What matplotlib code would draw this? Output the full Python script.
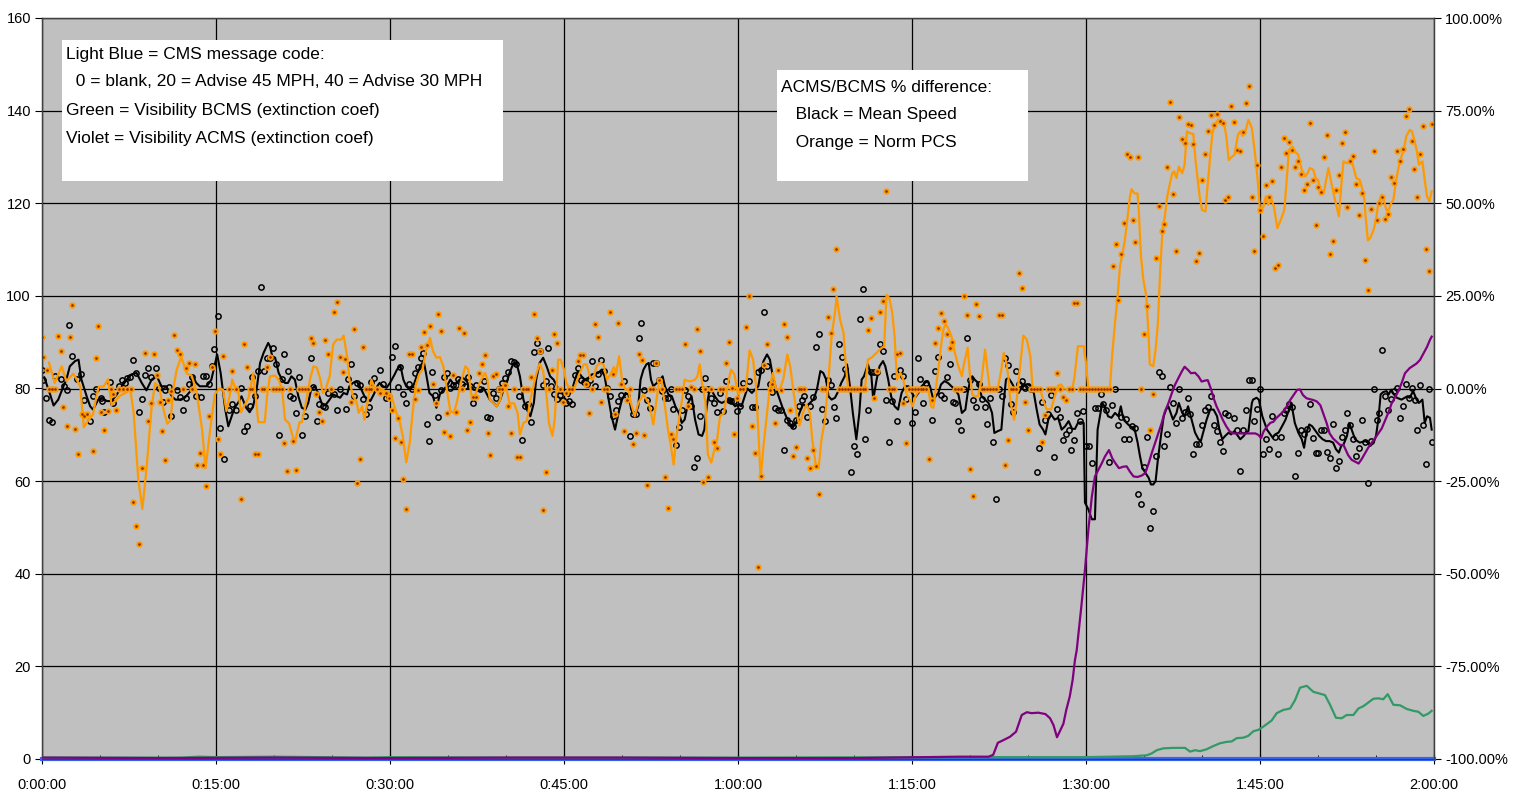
import matplotlib
matplotlib.use("Agg")
import matplotlib.pyplot as plt
from matplotlib.patches import Rectangle
from matplotlib.ticker import FuncFormatter, MultipleLocator

plt.rcParams['font.family'] = ['Liberation Sans', 'DejaVu Sans']

# ---- data (time in minutes, % difference on right axis) ----
orange_line_t = [0.6, 1.1, 1.7, 2.1, 2.7, 2.9, 3.3, 3.6, 3.9, 4.4, 4.7, 4.9, 5.3, 5.7, 6.0, 6.7, 7.3, 7.6, 7.9, 8.3,
                 8.65, 9.0, 9.45, 9.75, 10.1, 10.5, 10.8, 11.1, 11.3, 11.6, 12.0, 12.5, 12.9, 13.3, 13.8, 14.1, 14.5, 14.9, 15.3,
                 15.6, 15.9, 16.2, 16.4, 16.6, 16.9, 17.15, 17.5, 17.8, 18.0, 18.2, 18.3, 18.65, 19.2, 19.4, 19.65, 20.1, 20.4,
                 20.7, 20.95, 21.3, 21.6, 21.8, 22.2, 22.4, 22.7, 23.1, 23.4, 23.7, 24.0, 24.2, 24.4, 24.8, 25.1, 25.4, 25.8,
                 26.0, 26.3, 26.5, 26.8, 27.1, 27.3, 27.6, 27.8, 28.1, 28.4, 28.7, 29.1, 29.85, 30.1,
                 30.5, 30.8, 31.1, 31.4, 31.7, 31.95, 32.2, 32.5, 32.8, 33.1, 33.45, 33.7, 34.0, 34.3, 34.6, 34.9, 35.2, 35.5,
                 35.75, 36.1, 36.5, 36.75, 37.0, 37.2, 37.5, 37.8, 38.2, 38.4, 38.6, 39.0, 39.2, 39.5, 39.8, 40.06, 40.3, 40.7,
                 41.0, 41.2, 41.5, 41.8, 42.1, 42.4, 42.6, 42.9, 43.2, 43.5, 43.7, 44.0, 44.2, 44.5, 44.7, 45.0, 45.2,
                 45.7, 45.95, 46.3, 46.7, 46.96, 47.25, 47.5, 47.8, 48.1, 48.4, 48.7, 49.0, 49.3, 49.5, 49.75, 50.0, 50.3,
                 50.55, 50.8, 51.1, 51.4, 51.85, 52.3, 52.5, 52.7, 53.0, 53.2, 53.4, 53.7, 54.0, 54.2, 54.45, 54.7, 55.0, 55.2,
                 55.4, 55.7, 56.0, 56.3, 56.5, 56.7, 56.9, 57.2, 57.4, 57.7, 58.0, 58.2, 58.45, 58.8, 59.2, 59.4, 59.7, 60.0, 60.3,
                 60.7, 61.0, 61.3, 61.55, 61.75, 61.95, 62.2, 62.5, 62.75, 63.0, 63.3, 63.6, 63.9, 64.25, 64.5, 64.8, 65.05,
                 65.3, 65.6, 65.9, 66.2, 66.4, 66.7, 66.95, 67.2, 67.5, 67.8, 68.07, 68.36, 68.5, 68.8, 69.1, 69.3, 69.5, 70.95,
                 71.2, 71.5, 71.8, 72.1, 72.4, 72.6, 72.8, 73.05, 73.3, 73.5, 73.7, 74.0, 74.25, 74.5, 74.8, 75.05, 75.3, 75.7,
                 76.4, 76.64, 76.84, 77.04, 77.27, 77.5, 77.7, 77.9, 78.1, 78.4, 78.7, 79.0, 79.3, 79.5, 79.8, 80.0, 80.2, 80.4,
                 80.7, 81.0, 81.3, 81.5, 81.7, 82.4, 82.7, 82.9, 83.1, 83.3, 83.5, 83.8, 84.0, 84.2, 84.5, 84.6, 84.9, 85.2, 85.4,
                 86.04, 86.3, 86.6, 87.0, 87.3, 87.6, 87.85, 88.1, 88.8, 89.0, 89.3, 89.8, 90.0, 90.2,
                 92.06, 92.27, 92.5, 92.7, 92.93, 93.13, 93.36, 93.59, 93.79, 93.93, 94.16, 94.45, 94.56, 94.74, 94.94, 95.2,
                 95.4, 95.5, 95.8, 96.0, 96.2, 96.4, 96.6, 96.8, 97.0, 97.24, 97.44, 97.6, 97.8, 98.0, 98.3, 98.5, 98.7, 98.96,
                 99.25, 99.45, 99.7, 99.8, 100.0, 100.3, 100.5, 100.7, 100.9, 101.1, 101.4, 101.6, 101.9, 102.1, 102.3, 102.6,
                 102.8, 103.1, 103.3, 103.5, 103.7, 104.0, 104.3, 104.6, 104.8, 105.0,
                 105.3, 105.5, 105.7, 106.0, 106.2, 106.5, 106.8, 107.1, 107.3, 107.5, 107.8, 108.0, 108.3, 108.6, 108.9,
                 109.1, 109.3, 109.6, 109.8, 110.0, 110.2, 110.5, 110.7, 110.9, 111.1, 111.4, 111.6, 111.8, 112.0, 112.2,
                 112.5, 112.8, 113.0, 113.3, 113.6, 113.8, 114.0, 114.1, 114.3, 114.5, 114.8, 115.0, 115.2, 115.5, 115.7,
                 115.9, 116.1, 116.3, 116.5, 116.7, 116.9, 117.1, 117.4, 117.6, 117.9, 118.1, 118.3, 118.5, 118.7, 119.0,
                 119.2, 119.4, 119.6, 119.8]
orange_line_v = [7, 1.5, 6, 2, 4, 3, 0.5, -10.5, -9, -7, -2, 0.5, 0.5, 2.5, -4.5, -2, -1, 0, -6.5, -24.5,
                 -32.5, -22, -5, 1.5, 0.5, -6, -9.5, -8.5, -0.5, 5, 8.5, 4, 3.5, -0.5, -11, -21.5, -11, -1.5, 0,
                 -0.3, -6.1, -1.6, 2.4, 0.6, -0.3, -6.4, -4.3, -2.5, 0.6, 4.2, 1.5, -9.1, -9.1, -2.1, 3.3, 3.5, 2.4,
                 -0.3, -8.4, -9.4, -12.8, -14.6, -9.1, -9.1, -4.8, 2.4, 6.0, 5.6, 2.4, -1.2, -0.7, 3.3, 11.9, 13.2, 13.2,
                 14.3, 8.7, 2.4, -2.1, -3.4, -6.6, -4.8, -8.4, -3.0, 2.4, -0.3, 0.2, -1.2, -1.6,
                 -6.1, -8.4, -12.8, -19.9, -14.6, -6.6, 0.6, 3.8, 5.1, 10.1, 13.7, 10.1, 8.3, 8.5, 6.0, -0.3, -6.1, -6.6,
                 -3.9, 1.5, 6.0, 5.1, -1.6, -3.0, -0.3, 2.0, 4.2, 2.4, -3.0, -4.3, -4.8, -3.0, 1.5, -0.3, -4.0, -4.0,
                 -6.6, -12.4, -9.3, -8.8, -3.0, 1.1, 3.8, 6.7, 4.7, -2.1, -9.3, -12.8, -8.4, 7.8, 7.8, 5.1, 1.5,
                 -1.2, 0.6, 3.8, 6.5, 6.5, 2.9, 2.4, 6.0, 6.9, 6.5, 2.4, 3.8, 5.8, 4.2, 8.7, 2.4, -0.3,
                 -0.3, -4.3, -7.5, -3.9, -1.6, -3.9, -6.6, -9.7, -2.5, 2.0, 2.4, -4.8, -11.9, -15.1, -20.5, -12.8, -6.6, -2.5,
                 2.4, 2.0, 2.0, 2.4, 3.3, 6.5, 1.5, -3.9, -17.8, -20.0, -16.0, -13.7, -7.5, -6.6, 2.4, 5.1, 3.8, -1.6, -0.3,
                 0.6, 10.3, 7.8, 0.6, -11.1, -24.5, -15.5, -6.6, 0.6, 4.2, -0.3, -0.3, 2.4, 9.2, 6.0, -1.2, -6.6,
                 -10.0, -6.6, -4.3, -6.6, -13.7, -20.5, -21.4, -13.7, -8.4, 2.4, 14.1, 20.4, 24.9, 18.6, 15.0, 6.0, 0, 0,
                 7.8, 8.3, 9.2, 10.1, 11.0, 11.4, 25.3, 24.4, 20.4, 14.1, 2.4, 4.2, 2.4, -1.2, -3.0, -4.8, -2.1, 0,
                 0, -4.8, -5.2, -0.3, 5.1, 11.4, 15.9, 17.3, 16.4, 14.1, 9.6, 6.0, 3.3, 6.9, 11.0, 3.3, -1.6, -2.1,
                 -2.1, 2.4, 10.5, 5.1, 0, 0, 5.1, 9.6, 7.4, 3.3, -3.9, -8.4, -3.9, 2.4, 11.4, 14.3, 13.2, 8.7, 0,
                 0, -3.0, -5.6, -5.6, -2.1, 0.8, 1.1, 0, -0.3, 2.9, 11.4, 11.4, 6.9, 0,
                 0, 9.6, 17.7, 24.0, 33.0, 36.1, 40.2, 46.5, 51.8, 53.8, 52.7, 52.6, 47.3, 35.7, 29.4, 24.9,
                 14.1, 6.5, 6.0, 10.5, 17.7, 32.1, 42.9, 46.5, 51.8, 55.4, 58.1, 58.6, 56.8, 59.9, 58.1, 60.4, 69.4, 68.9,
                 68.7, 61.3, 54.5, 51.8, 48.2, 47.8, 55.4, 62.6, 68.9, 71.2, 72.5, 72.1, 71.6, 68.0, 61.7, 62.6,
                 63.1, 68.5, 69.4, 68.2, 68.9, 72.5, 70.3, 62.6, 56.3, 48.0,
                 49.1, 51.8, 49.6, 50.9, 49.1, 43.3, 45.6, 48.2, 56.3, 64.4, 65.3, 64.0, 63.1, 59.0, 57.2,
                 58.1, 59.5, 59.0, 56.8, 56.3, 53.6, 52.7, 56.3, 59.5, 56.3, 51.8, 49.1, 46.5, 54.5, 61.3,
                 60.8, 61.3, 60.4, 56.8, 56.3, 54.1, 50.9, 46.5, 40.0, 40.6, 42.9, 45.6, 50.0, 52.3, 50.5,
                 48.2, 48.2, 50.0, 50.9, 55.4, 59.0, 61.7, 64.4, 68.0, 69.8, 69.4, 67.1, 64.4, 60.4, 61.3,
                 56.3, 51.8, 50.5, 53.2]

orange_dot_t = [0, 0.11, 0.40, 0.63, 0.89, 1.15, 1.35, 1.61, 1.84, 2.13, 2.39, 2.62, 2.87, 3.13, 3.42, 3.65, 3.85, 4.37,
                4.63, 4.86, 5.12, 5.37, 5.66, 5.92, 6.15, 6.38, 6.64, 6.95, 7.36, 7.64, 7.87, 8.13, 8.36, 8.62, 8.88, 9.14,
                9.4, 9.63, 9.89, 10.14, 10.37, 10.63, 10.89, 11.15, 11.38, 11.64, 11.9, 12.16, 12.41, 12.64, 12.9, 13.16,
                13.39, 13.65, 13.88, 14.14, 14.4, 14.63, 14.89, 15.14, 15.35,
                15.63, 16.12, 16.4, 16.7, 17.12, 17.38, 17.64, 17.9, 18.13, 18.39, 18.59, 18.93, 19.16, 19.42, 19.65, 19.9,
                20.17, 20.4, 20.66, 20.9, 21.15, 21.4, 21.63, 21.9, 22.15, 22.38, 22.64, 22.9, 23.16, 23.39, 23.65, 23.9,
                24.13, 24.39, 24.65, 24.88, 25.14, 25.4, 25.66, 25.92, 26.15, 26.66, 26.92, 27.15, 27.38, 27.67, 27.9,
                28.16, 28.4, 28.9, 29.16, 29.65, 29.9, 30.17, 30.4,
                30.66, 30.92, 31.15, 31.4, 31.67, 31.93, 32.16, 32.4, 32.67, 32.9, 33.16, 33.42, 33.68, 33.94, 34.17, 34.43,
                34.68, 34.94, 35.17, 35.43, 35.69, 35.92, 36.18, 36.41, 36.67, 36.93, 37.18, 37.41, 37.67, 37.93, 38.19,
                38.42, 38.65, 38.9, 39.17, 39.43, 39.68, 39.91, 40.17, 40.43, 40.69, 40.92, 41.18, 41.44, 41.7, 41.93, 42.18,
                42.44, 42.7, 42.93, 43.19, 43.45, 43.68, 43.94, 44.17, 44.43, 44.68, 44.94, 45.17, 45.43,
                45.66, 46.18, 46.41, 46.67, 46.93, 47.16, 47.45, 47.68, 47.93, 48.19, 48.45, 48.68, 48.94, 49.2, 49.43,
                49.69, 49.95, 50.2, 50.44, 50.69, 50.95, 51.18, 51.44, 51.7, 51.93, 52.19, 52.45, 52.7, 52.96, 53.19, 53.45,
                53.71, 53.94, 54.2, 54.43, 54.69, 54.95, 55.2, 55.46, 55.72, 55.95, 56.21, 56.47, 56.7, 56.96, 57.19, 57.45,
                57.7, 57.96, 58.19, 58.45, 58.71, 58.94, 59.2, 59.46, 59.69, 59.95, 60.2, 60.46,
                60.69, 60.97, 61.23, 61.46, 61.72, 61.95, 62.21, 62.47, 62.73, 62.96, 63.22, 63.47, 63.73, 63.99, 64.22,
                64.48, 64.71, 64.97, 65.23, 65.46, 65.72, 65.97, 66.23, 66.46, 66.72, 66.98, 67.21, 67.47, 67.73, 67.99,
                68.22, 68.47, 68.73, 68.96, 69.22, 69.48, 69.71, 69.97, 70.23, 70.49, 70.74, 70.97, 71.23, 71.49, 71.75,
                71.98, 72.24, 72.47, 72.73, 72.99, 73.24, 73.47, 73.73, 73.99, 74.25, 74.48, 74.74, 75.0, 75.23, 75.49,
                75.75, 75.98, 76.24, 76.47, 76.73, 76.98, 77.21, 77.47, 77.73, 77.99, 78.25, 78.48, 78.74, 79.0, 79.25,
                79.51, 79.74, 80.0, 80.23, 80.49, 80.75, 81.0, 81.24, 81.5, 81.75, 82.01, 82.24, 82.5, 82.73, 82.99, 83.25,
                83.5, 83.74, 84.0, 84.25, 84.48, 84.74, 85.0, 85.23, 85.49, 85.75, 86.0, 86.24, 86.5, 86.75, 86.98, 87.24,
                87.5, 87.76, 88.02, 88.25, 88.51, 88.77, 89.0, 89.25, 89.51, 89.77, 90.0, 90.26, 90.52, 90.78,
                91.06, 91.29, 91.55, 91.81, 92.06, 92.3, 92.55, 92.78, 93.01, 93.27, 93.5, 93.76, 94.02, 94.25, 94.51,
                94.77, 95.02, 95.25, 95.51, 95.77, 96.0, 96.26, 96.52, 96.75, 97.01, 97.27, 97.53, 97.75, 98.01, 98.27,
                98.5, 98.76, 99.02, 99.25, 99.51, 99.77, 100.0, 100.25, 100.51, 100.74, 101.0, 101.26, 101.52, 101.78,
                102.01, 102.27, 102.52, 102.75, 103.01, 103.27, 103.5, 103.76, 104.02, 104.28, 104.51, 104.77, 105.03,
                105.28, 105.52, 105.78, 106.03, 106.29, 106.52, 106.78, 107.04, 107.27, 107.53, 107.79, 108.05, 108.28,
                108.53, 108.79, 109.02, 109.28, 109.54, 109.8, 110.03, 110.29, 110.55, 110.78, 111.03, 111.29, 111.55,
                111.78, 112.04, 112.3, 112.53, 112.79, 113.05, 113.3, 113.53, 113.79, 114.05, 114.28, 114.54, 114.8,
                115.06, 115.29, 115.55, 115.8, 116.03, 116.29, 116.55, 116.78, 117.04, 117.3, 117.56, 117.82, 118.07,
                118.3, 118.56, 118.79, 119.05, 119.31, 119.57, 119.8]
orange_dot_v = [13.8, 8.5, 5.1, 0, 0, 0, 14.1, 10.0, -5.1, -10.2, 13.8, 22.5, -11.0, -17.6, -6.8, -7.5, -7.0, -16.9,
                8.1, 16.8, -6.3, -11.1, -6.1, 0, -1.4, -5.8, 0, 0, 0, 0, -30.7, -37.0, -42.0, -21.4, 9.6, -8.7,
                -4.0, 9.3, 3.7, -3.7, -11.6, -19.3, -3.1, -0.8, 14.4, 10.3, 9.2, 0, 5.6, 6.9, 0, 6.5,
                -20.6, -17.5, -20.6, -26.2, -7.5, 5.8, 15.6, -13.7, -17.7,
                8.7, 0, 4.7, 0, -29.8, 12.0, 5.8, 0, 0, -17.8, -17.8, 0, 0, 5.8, 8.4, 0,
                0, 0, 0, -14.8, -22.3, 0, -14.1, -22.0, 0, 0, 0, 0, 13.5, 12.3, -1.4, -6.4,
                -8.8, 13.2, 9.3, 0, 20.7, 23.4, 8.6, 4.4, 7.9, -3.6, 16.0, -25.6, -19.1, 11.2, 0,
                0, 0, 0, -1.2, -1.2, -2.5, -5.9, -13.4,
                -7.9, -14.4, -24.4, -32.6, 9.4, 9.4, -2.7, -0.4, 11.1, 15.3, 11.7, 16.8, 1.3, -3.9, 20.2, 15.4,
                -11.7, -6.6, -12.8, 3.7, -6.4, 16.2, -0.1, 15.1, -11.1, -9.1, -2.2, -2.2, 4.1, 6.5, 9.1,
                -11.9, -17.9, 3.5, 4.0, 0, 0, 1.0, -4.6, -11.9, 0, -18.5, -18.5, 0, 0, 0, 3.1,
                20.2, 13.7, 10.1, -32.7, -22.6, 0, 5.0, 14.6, 12.3, 0, -3.6, -1.2, 0,
                0, 7.5, 9.0, 9.0, 1.1, -6.6, 0, 17.4, 14.0, -3.7, 0, 0, 20.7, 4.0, -6.9,
                17.6, 1.1, -11.5, -3.0, 0, -15.1, -12.1, 9.3, 7.6, -12.5, -26.1, 0, 0, 6.9, 2.4, 0,
                -24.0, -32.3, -12.4, -13.7, 0, 0, 0, 12.1, -4.6, 0.4, 0, 16.1, 10.0, -25.2, 0, -23.9,
                0, -14.4, -16.0, 0, 0, 7.0, 12.6, 0.2, -12.4, -2.5, 0, 0,
                16.6, 24.9, -10.0, -17.5, -48.2, -23.6, 6.3, 12.1, -0.3, 1.1, -9.3, 5.1, -0.3, 17.5, 13.9,
                -5.8, -18.1, -15.8, 0, 0, 0, -18.7, -21.4, -16.6, -20.9, -28.6, 0, 0, 19.3, 15.0,
                26.9, 37.7, 0, 0, 0, 0, 0, 0, 0, 0, 0, 0, 15.7, 19.0, -2.5,
                4.6, 20.6, 23.5, 53.4, 0, 0, 0, 9.3, 9.5, -4.0, -14.8, 0, 0, 0, 0,
                0, 0, 0, -18.9, -3.0, 12.4, 16.3, 20.3, 18.1, 14.8, 11.0, 12.6, 0, 0, 0,
                24.9, 19.9, -21.8, -29.0, 22.7, 19.5, 0, 0, 0, 0, 0, 0, 19.9, 19.9, -20.7, -14.0,
                0, 0, 0, 31.2, 27.2, -3.6, -11.3, 0, 0, 0, 0, -14.5, -7.1, 0, 0, 0,
                4.1, 0, -2.3, -3.0, 0, 0, 23.2, 23.2, 0, 0, 0, 0, 0, 0,
                0, 0, 0, 0, 0, 33.0, 39.0, 24.0, 36.3, 44.7, 63.3, 62.4, 45.4, 39.5, 62.6,
                0, 14.7, 22.2, -11.2, -1.4, 35.1, 49.2, 42.4, 44.5, 59.9, 77.4, 52.5, 37.2, 73.4, 67.4,
                66.2, 71.4, 71.2, 65.9, 34.4, 36.5, 56.2, 63.3, 69.4, 73.9, 71.2, 74.2, 72.1, 71.6,
                50.9, 51.6, 76.3, 72.0, 64.4, 64.0, 69.1, 77.0, 81.6, 51.8, 37.1, 60.3, 48.2,
                41.2, 54.9, 51.8, 55.9, 32.6, 33.4, 59.7, 67.5, 63.6, 66.6, 64.5, 59.7, 61.3,
                58.0, 53.5, 55.2, 71.7, 56.3, 44.0, 54.5, 53.1, 62.6, 68.4, 36.3, 39.8, 53.5,
                57.5, 66.2, 69.1, 49.1, 61.3, 62.8, 55.2, 46.8, 52.7, 34.6, 26.7, 48.5, 64.2,
                45.4, 50.2, 51.7, 45.8, 47.2, 57.1, 55.5, 64.0, 61.5, 64.6, 73.6, 75.5, 66.8,
                59.2, 51.8, 63.3, 70.9, 37.7, 31.7, 71.5]

black_line_t = [0.2, 0.7, 1.0, 1.4, 1.85, 2.1, 2.4, 2.85, 3.15, 3.4, 3.85, 4.15, 4.4, 4.85, 5.15, 5.6, 6.0, 6.45, 6.9,
                7.3, 7.7, 8.15, 8.6, 9.0, 9.45, 9.9, 10.3, 10.7, 11.2, 11.5, 11.9, 12.3, 12.8, 13.0, 13.3, 13.6, 14.2,
                14.6, 15.1, 15.4, 15.8, 16.06, 16.35, 16.6, 16.9, 17.2, 17.6, 17.9, 18.2, 18.5, 18.8, 19.1, 19.5, 19.65,
                19.85, 20.1, 20.4, 20.7, 20.95, 21.2, 21.5, 21.8, 22.1, 22.4, 22.7, 22.95, 23.2, 23.5, 23.8, 24.1, 24.4,
                24.7, 25.1, 25.7, 26.0, 26.3, 26.5, 26.8, 27.1, 27.4, 27.8, 28.3, 28.6, 28.9, 29.1, 29.4, 29.7, 30.0, 30.4,
                30.6, 30.9, 31.15, 31.4, 31.7, 32.0, 32.3, 32.6, 32.9, 33.1, 33.4, 33.7, 34.0, 34.3, 34.6, 34.9, 35.2, 35.5,
                35.75, 36.0, 36.3, 36.6, 36.9, 37.2, 37.75, 38.05, 38.3, 38.6, 38.9, 39.2, 39.5, 39.8, 40.06, 40.3, 40.6,
                40.9, 41.2, 41.5, 41.8, 42.1, 42.4, 42.6, 42.9, 43.2, 43.5, 43.8, 44.1, 44.4, 44.65, 45.2,
                45.4, 45.7, 45.95, 46.2, 46.5, 46.8, 47.1, 47.4, 47.96, 48.25, 48.5, 48.8, 49.1, 49.4, 49.7, 50.0, 50.3,
                50.55, 50.8, 51.1, 51.4, 51.6, 51.85, 52.1, 52.3, 52.5, 52.7, 53.0, 53.3, 53.5, 53.7, 54.0, 54.3, 54.6,
                54.9, 55.15, 55.4, 55.7, 56.0, 56.3, 56.6, 56.9, 57.1, 57.3, 57.5, 57.7, 58.0, 58.3, 58.6, 59.2, 59.5,
                59.75, 60.0, 60.3,
                60.8, 61.2, 61.46, 61.75, 62.0, 62.2, 62.5, 62.75, 63.0, 63.3, 63.6, 63.9, 64.2, 64.5, 64.7, 65.0, 65.3,
                65.6, 65.9, 66.2, 66.5, 66.8, 67.1, 67.35, 67.6, 67.8, 68.07, 68.36, 68.65, 68.9, 69.2, 69.4, 69.65, 69.9,
                70.2, 70.46, 70.66, 70.86, 71.2, 71.5, 71.66, 71.95, 72.2, 72.5, 72.7, 72.95, 73.2, 73.5, 73.8, 74.1,
                74.4, 74.7, 75.0, 75.25,
                75.55, 75.83, 76.1, 76.35, 76.55, 76.84, 77.04, 77.27, 77.5, 77.8, 78.1, 78.4, 78.7, 79.0, 79.3, 79.6,
                79.8, 80.0, 80.2, 80.4, 80.7, 81.0, 81.3, 81.6, 81.9, 82.1, 82.4, 82.7, 82.9, 83.1, 83.3, 83.6, 83.9,
                84.2, 84.5, 84.75, 85.0, 85.3, 85.5, 85.75, 86.0, 86.3, 86.5, 86.75, 87.0, 87.3, 87.6, 87.9, 88.2, 88.5,
                88.8, 89.05, 89.3, 89.6, 89.8,
                89.91, 90.2, 90.5, 90.77, 91.0, 91.2, 91.4, 91.6, 91.9, 92.2, 92.5, 92.8, 93.0, 93.2, 93.5, 93.8, 94.1,
                94.2, 94.45, 94.65, 94.85, 95.1, 95.4, 95.6, 95.8, 96.0, 96.2, 96.5, 96.7, 96.9, 97.1, 97.3, 97.5, 97.8,
                98.0, 98.3, 98.5, 98.8, 99.1, 99.4, 99.7, 99.9, 100.1, 100.4, 100.7, 101.0, 101.3, 101.5, 101.75, 102.0,
                102.3, 102.5, 102.8, 103.1, 103.3, 103.6, 103.8, 104.0, 104.3, 104.4, 104.7, 104.9,
                105.2, 105.4, 105.6, 105.9, 106.1, 106.3, 106.6, 106.9, 107.2, 107.4, 107.7, 108.0, 108.3, 108.6, 108.8,
                109.0, 109.25, 109.5, 109.8, 110.1, 110.4, 110.7, 111.0, 111.3, 111.55, 111.8, 112.0, 112.2, 112.5,
                112.7, 112.9, 113.2, 113.4, 113.6, 114.1, 114.3, 114.5, 114.8, 115.0, 115.2, 115.4, 115.6, 115.9, 116.1,
                116.3, 116.55, 116.8, 117.2, 117.7, 117.9, 118.2, 118.5, 118.7, 119.0, 119.2, 119.4, 119.65, 119.8]
black_line_v = [3, -1.6, -4.6, -3, 0.6, 2.4, 6, 7.4, 7.8, 2.4, -2.1, -4.8, -5.7, -3, -2.5, -3.4, -3.4, -1.6, 0.6,
                2.4, 3.8, 4.2, 1.5, -0.5, 2.4, 3.3, 0.6, 0.6, -2.1, -3, -3, -2.5, -0.7, 3.3, 1.5, 0.6, 0.6,
                2.4, 9.2, 4.2, -5.7, -10.2, -7.5, -5.2, -3.9, -2.1, -5.2, -6.4, -4.8, -0.3, 6.9, 9.6, 12.3, 11.4,
                8.7, 8.3, 4.2, 2.4, 1.5, 1.5, 3.3, 2.4, -2.1, -5.2, -5.7, -3.9, -0.3, 0.6, -1.2, -3.9, -4.6,
                -3.4, -1.6, -2.5, -1.2, -1.6, 0.6, 1.5, 2.0, 0.6, -2.1, -3.4, -1.6, 0.6, 1.5, 0.6, 0.2, 1.5, 3.8,
                5.1, 6.2, 2.4, 0.6, -0.3, 0.6, 3.3, 6.0, 7.4, 4.2, -1.2, -2.1, -5.2, -1.6, -0.3, 0.6, 2.4, 1.1,
                1.5, 2.4, 2.9, 2.0, 0.6, -0.3, -0.7, 0.2, -1.2, -3.0, -3.9, -4.8, -3.0, -0.3, 1.5, 4.2, 6.5,
                6.9, 3.3, -3.0, -5.7, -7.5, -3.9, 2.4, 6.9, 8.3, 6.0, 3.3, 2.4, 0.6, -1.2, -1.6,
                -2.1, -0.3, 2.4, 4.7, 3.3, 2.4, 2.9, 3.8, 4.2, 5.1, 3.3, -2.1, -7.5, -11.1, -6.6, -3.0, -1.2,
                -1.6, -5.7, -7.5, -4.8, 2.4, 5.1, 6.5, 6.9, 2.4, 0.6, 1.5, 2.4, 3.3, 0.6, -1.6, -2.1, -4.8,
                -6.6, -9.3, -8.4, -3.9, -2.1, -8.4, -12.4, -12.8, -11.1, -4.8, -1.2, -0.3, -2.1, -3.4, -3.9, -3.0, -3.9,
                -4.8, -4.3, -4.8,
                0, -1.2, -0.3, 0.6, 5.1, 7.4, 9.2, 7.8, 3.3, -0.3, -3.0, -5.7, -7.9, -9.7, -10.6, -9.3, -6.6,
                -4.3, -4.8, -3.9, -3.0, -0.3, 4.7, 4.2, 2.4, -2.1, -3.0, -2.5, -0.7, 1.5, 3.3, 6.5, 0.6, -6.6,
                -13.7, -6.6, 2.4, 3.3, 6.5, 3.3, -3.0, 2.4, 6.0, 7.4, 6.0, 2.4, -2.1, -4.8, -5.7, -1.2,
                0.6, 0.6, -1.2, -2.5,
                -1.2, 0.6, 1.5, 2.0, 0.6, -3.0, -2.1, -1.2, 1.1, 2.0, 1.5, 0.6, -0.3, -1.6, -6.6, -5.7,
                -1.2, 2.0, 3.3, 2.4, 1.5, -2.1, -3.0, -3.9, -6.6, -12.0, -11.5, -11.1, -3.9, 2.4, 2.9, 1.5, -0.3,
                -1.2, 0.6, 1.1, 1.1, 0.6, -1.2, -5.7, -9.7, -11.1, -12.4, -8.4, -7.0, -8.4, -7.9, -11.1, -10.2, -8.8,
                -10.9, -10.9, -9.3, -9.1, -9.3,
                -30.8, -32.6, -35.3, -35.3, -11.1, -7.5, -3.9, -4.8, -7.5, -7.9, -6.6, -7.5, -4.8, -7.9, -9.3, -10.2, -10.6,
                -11.1, -14.6, -18.2, -21.3, -22.7, -24.1, -25.9, -25.9, -25.0, -19.1, -11.9, -7.5, -5.7, -4.8, -6.6, -8.4, -6.6,
                -3.9, -6.6, -7.5, -4.8, -8.4, -11.9, -13.7, -14.2, -11.9, -8.4, -5.7, -5.7, -7.5, -11.1, -13.7, -12.8,
                -11.9, -12.4, -11.5, -12.8, -13.7, -12.8, -11.9, -11.5, -3.9, -3.0, -2.5, -3.0,
                -7.5, -9.3, -11.1, -12.4, -13.3, -12.4, -11.9, -10.2, -8.4, -6.6, -3.9, -9.3, -11.9, -13.7, -16.0,
                -11.9, -9.7, -10.2, -11.5, -12.8, -13.7, -14.2, -14.2, -14.6, -16.4, -17.3, -15.5, -15.1, -12.8,
                -9.3, -11.1, -13.7, -14.2, -14.6, -14.2, -14.6, -15.5, -14.6, -12.8, -8.4, -1.6, -1.0, -0.7, -1.6,
                -0.3, -1.6, -2.5, -3.0, -2.1, -2.5, -0.7, -3.0, -3.9, -3.0, -9.3, -7.5, -7.9, -11.1]

black_dot_t = [0, 0.11, 0.35, 0.63, 0.89, 1.12, 1.61, 1.90, 2.13, 2.36, 2.62, 3.05, 3.33, 3.62, 4.14, 4.37, 4.63, 5.06,
               5.2, 5.37, 5.86, 6.15, 6.64, 6.87, 7.16, 7.36, 7.59, 7.87, 8.1, 8.36, 8.62, 8.88, 9.11, 9.4, 9.83, 10.09,
               10.4, 10.6, 10.92, 11.15, 11.61, 11.9, 12.13, 12.41, 12.64, 12.93, 13.25, 13.68, 13.91, 14.14, 14.4,
               14.63, 14.86, 15.14, 15.35,
               15.66, 16.12, 16.4, 16.7, 17.15, 17.4, 17.67, 17.9, 18.13, 18.36, 18.65, 18.9, 19.16, 19.42, 19.68, 19.88,
               20.14, 20.4, 20.66, 20.9, 21.2, 21.4, 21.66, 21.9, 22.15, 22.4, 22.67, 23.19, 23.4, 23.7, 23.9, 24.2, 24.4,
               24.68, 25.17, 25.4, 25.66, 26.17, 26.4, 26.66, 26.9, 27.15, 27.4, 27.67, 27.9, 28.16, 28.4, 28.65, 29.16,
               29.4, 29.65, 29.9, 30.17, 30.4,
               30.66, 30.9, 31.15, 31.4, 31.64, 31.9, 32.13, 32.4, 32.64, 32.87, 33.16, 33.4, 33.65, 33.88, 34.17, 34.4,
               34.66, 34.94, 35.2, 35.4, 35.66, 35.9, 36.18, 36.47, 36.7, 36.93, 37.16, 37.4, 37.73, 38.13, 38.39, 38.65,
               38.9, 39.17, 39.43, 39.66, 39.9, 40.17, 40.43, 40.66, 40.9, 41.15, 41.4, 41.67, 41.9, 42.16, 42.4, 42.67,
               42.93, 43.16, 43.42, 43.65, 43.9, 44.17, 44.43, 44.66, 44.9, 45.17, 45.4,
               45.72, 45.95, 46.21, 46.47, 46.73, 46.99, 47.22, 47.45, 47.7, 47.93, 48.19, 48.45, 48.71, 48.94, 49.2,
               49.46, 49.69, 49.95, 50.2, 50.44, 50.69, 50.95, 51.18, 51.44, 51.67, 51.93, 52.19, 52.45, 52.7, 52.96,
               53.19, 53.45, 53.71, 53.94, 54.2, 54.43, 54.69, 54.95, 55.18, 55.44, 55.69, 55.92, 56.18, 56.44, 56.7,
               56.93, 57.19, 57.42, 57.68, 57.93, 58.19, 58.45, 58.68, 58.94, 59.2, 59.43, 59.69, 59.95, 60.2, 60.46,
               60.97, 61.23, 61.46, 61.72, 61.98, 62.21, 62.47, 62.73, 62.96, 63.22, 63.47, 63.73, 63.99, 64.22, 64.48,
               64.74, 65.0, 65.23, 65.49, 65.72, 65.97, 66.23, 66.46, 66.72, 66.98, 67.24, 67.5, 67.73, 67.99, 68.24,
               68.47, 68.73, 68.96, 69.22, 69.74, 69.97, 70.23, 70.49, 70.74, 70.97, 71.23, 71.49, 71.75, 71.98, 72.24,
               72.47, 72.73, 72.99, 73.24, 73.47, 73.73, 73.99, 74.25, 74.48, 75.0, 75.23, 75.49, 75.69,
               75.98, 76.24, 76.73, 76.98, 77.21, 77.47, 77.73, 77.99, 78.25, 78.51, 78.74, 78.97, 79.23, 79.48, 79.74,
               80.0, 80.23, 80.49, 80.75, 81.0, 81.27, 81.5, 81.75, 82.01, 82.24, 82.5, 82.73, 82.99, 83.25, 83.5, 83.74,
               84.0, 84.25, 84.48, 84.74, 84.97, 85.23, 85.75, 85.98, 86.24, 86.5, 86.73, 86.98, 87.24, 87.5, 87.73,
               87.99, 88.25, 88.5, 88.74, 89.0, 89.25, 89.48, 89.74, 89.97,
               90.25, 90.48, 90.77, 91.0, 91.26, 91.49, 91.75, 91.98, 92.21, 92.47, 92.73, 92.98, 93.24, 93.47, 93.73,
               93.99, 94.25, 94.51, 94.74, 95.0, 95.25, 95.51, 95.77, 96.0, 96.26, 96.52, 96.75, 97.0, 97.27, 97.5,
               97.75, 98.01, 98.24, 98.5, 98.76, 98.99, 99.25, 99.51, 99.77, 100.0, 100.25, 100.51, 100.74, 101.0,
               101.26, 101.52, 101.78, 102.01, 102.27, 102.75, 103.01, 103.27, 103.5, 103.76, 104.02, 104.28, 104.51,
               104.77, 105.03, 105.28,
               105.52, 105.78, 106.03, 106.29, 106.52, 106.78, 107.04, 107.27, 107.53, 107.79, 108.05, 108.28, 108.53,
               108.79, 109.02, 109.28, 109.54, 109.8, 110.03, 110.29, 110.55, 110.78, 111.03, 111.29, 111.55, 111.78,
               112.04, 112.3, 112.53, 112.79, 113.05, 113.3, 113.53, 113.79, 114.05, 114.28, 114.54, 114.8, 115.06,
               115.29, 115.55, 115.8, 116.03, 116.29, 116.55, 116.78, 117.04, 117.3, 117.56, 117.82, 118.07, 118.33,
               118.53, 118.82, 119.05, 119.31, 119.57, 119.8]
black_dot_v = [5.1, 2.2, -2.5, -8.6, -9.1, 3.3, 2.6, 0.6, -0.3, 17.1, 8.7, 2.6, 4.0, -3.1, -8.8, -1.9, 0, -2.5,
               -3.4, -6.3, 1.7, -3.9, 0.6, 2.2, 1.5, 2.7, 3.1, 7.7, 4.2, -6.4, -2.8, 3.6, 5.4, 3.1, 5.6, 0.2,
               -3.7, -0.3, 0.4, -7.3, -0.3, -2.2, -5.8, -2.6, 1.3, 3.1, -1.9, -2.2, 3.5, 3.3, 1.3,
               6.2, 10.7, 19.7, -10.6,
               -18.9, -5.8, -4.2, -5.7, 0.2, -11.6, -10.2, -4.6, 3.1, -2.1, 4.8, 27.3, 4.8, 8.2, 8.2, 10.9,
               6.7, -12.6, 2.5, 9.2, 4.7, -1.9, -2.6, -6.5, 3.0, -12.6, -7.5, 8.1, 0.4, -8.8, -4.1, -4.6, -4.9,
               -1.3, -1.4, -5.9, -0.1, -5.6, 2.5, 6.6, -2.0, 1.4, 1.0, -2.8, -6.8, -4.9, 1.8, 2.8, 5.1,
               1.1, -2.6, -2.2, 8.4, 11.4,
               0.4, 5.8, -1.5, -4.0, 1.3, 0, 4.1, 5.8, 8.3, 9.6, -9.6, -14.3, 4.5, -1.7, -7.6, -0.3,
               3.1, 4.2, 0.2, 1.0, 0.9, 2.6, 1.3, 0.8, 3.1, 0.8, -3.8, 1.0, -0.1, 2.0, -7.8, -7.9,
               -1.2, -2.6, 0, 1.5, 2.8, 4.4, 7.5, 7.1, 6.5, -1.9, -13.8, -4.7, -4.2, -9.0, 9.8, 12.2,
               10.2, 1.0, 2.0, 11.0, 0.8, -1.4, -2.9, -1.7, -3.1, -4.0, -3.5,
               -4.3, 3.6, 5.6, 2.2, 1.8, 1.3, 2.2, 7.4, 0.6, 4.0, 7.8, 4.8, 0.2, -2.1, -7.5,
               -5.9, -3.3, -1.8, 2.0, -2.1, -12.8, -6.9, -7.0, 13.7, 17.6, -0.3, -3.0, -5.3, 6.9, 6.8,
               2.2, -0.7, -2.6, -2.5, 0, -5.5, -15.2, -10.4, -5.7, -0.4, -1.9, -4.6, -21.2, -18.7, -7.3,
               0, 2.9, 0, -2.5, -3.9, -6.4, -1.3, -6.2, 2.0, -3.0, -3.4, -3.5, -6.1, -4.8, 1.5,
               2.0, -5.0, -5.0, 4.4, 5.1, 20.7, 6.0, 1.3, -0.9, -5.2, -5.7, -5.8, -16.7, -8.4, -9.3,
               -10.2, -8.5, -4.6, -3.0, -2.1, -7.8, -4.6, -2.4, 11.2, 14.8, -5.5, -8.9, 2.4, 0.9, -4.9,
               -8.0, 12.0, 8.4, 5.3, -22.5, -15.4, -17.6, 18.8, 26.9, -13.6, -5.8, 4.4, 4.4, 4.4, 11.9,
               10.1, -3.2, -14.4, -3.3, 3.5, -8.9, 5.1, 3.3, -2.8, -9.3, -6.4, 8.1, 2.6,
               -4.0, 1.5, -8.5, 4.8, 8.5, -1.8, -2.6, 3.2, 6.6, -3.7, -3.9, -8.9, -11.1, 0, 13.7,
               2.2, -3.1, -5.1, 1.3, -2.8, -4.9, -9.5, -2.6, -14.4, -29.7, 0, -2.1, 8.1, 6.4, -4.1, -6.4,
               4.6, 1.3, 1.9, 0.2, 0.6, 0, -22.5, -16.0, -3.6, -8.5, -7.0, -1.7, -18.5, -5.4, -7.7,
               -13.8, -12.3, -11.3, -16.6, -14.0, -6.6, -8.9, -6.2, -15.6,
               -15.5, -20.2, -5.3, -5.3, -1.4, -4.3, -5.9, -19.9, -4.5, 0, -9.9, -7.6, -13.5, -8.2, -13.5,
               -10.0, -10.7, -28.4, -31.3, -21.2, -13.0, -37.6, -33.1, -18.2, 4.4, 3.3, -15.5, -12.2, 0.4, -3.9,
               -9.4, 0, -8.0, -6.4, -2.5, -6.8, -17.6, -14.9, -14.9, -9.8, -5.7, -5.0, -1.9, -9.9,
               -11.6, -14.5, -17.0, -6.5, -7.2, -8.0, -11.3, -22.3, -11.1, -5.8, 2.2, 2.2, -8.8,
               -5.5, 0, -17.6,
               -13.7, -16.4, -7.5, -13.1, -17.6, -13.1, -6.6, -5.8, -4.1, -5.0, -23.7, -17.3, -11.1,
               -12.4, -10.8, -4.1, -13.3, -17.3, -17.3, -11.1, -11.2, -17.2, -18.7, -9.7, -21.4, -19.5,
               -13.2, -11.2, -6.7, -9.8, -13.6, -18.2, -16.1, -8.6, -14.4, -25.5, -14.3, -0.1, -8.4,
               -6.6, 10.5, -1.9, -5.8, -2.8, -0.7, 0.2, -7.9, -4.8, 1.3, -2.5, 0.2, -3.0,
               -11.1, 1.0, -9.8, -20.5, -0.1, -14.5]

# ---- visibility (left axis, extinction coef) and CMS code ----
violet_t = [0, 10, 20, 30, 40, 50, 60, 70, 79.1, 81.6, 82.0, 82.4, 82.9, 83.45, 83.97, 84.46, 84.9, 85.3, 85.9, 86.5,
            86.9, 87.2, 87.5, 87.8, 88.05, 88.3, 88.6, 88.85, 89.05, 89.2, 89.6, 89.91, 90.2, 90.5, 90.77, 91.06, 91.35,
            91.63, 91.98, 92.27, 92.55, 92.84, 93.2, 93.5, 93.8, 94.1, 94.45, 94.8, 95.1, 95.4, 95.66, 95.95, 96.23,
            96.52, 96.8, 97.1, 97.4, 97.67, 97.96, 98.24, 98.5, 98.8, 99.05, 99.4, 99.7, 99.97, 100.25, 100.5, 100.8,
            101.0, 101.26, 101.55, 101.8, 102.1, 102.4, 102.7, 104.6, 104.85, 105.1, 105.3, 105.6, 105.9, 106.15, 106.4,
            106.7, 107.0, 107.3, 107.6, 107.9, 108.2, 108.45, 108.7, 109.0, 109.3, 109.6, 109.9, 110.2, 110.5, 110.75,
            111.0, 111.3, 111.6, 111.9, 112.2, 112.4, 112.6, 112.9, 113.2, 113.5, 113.8, 114.05, 114.3, 114.6, 114.9,
            115.2, 115.5, 115.8, 116.1, 116.35, 116.6, 116.9, 117.2, 117.5, 117.9, 118.5, 118.8, 119.1, 119.4, 119.65,
            119.8]
violet_v = [0.3, 0.2, 0.3, 0.2, 0.3, 0.3, 0.2, 0.2, 0.5, 0.5, 0.9, 3.5, 4.1, 4.8, 5.9, 9.5, 10.1, 9.9, 10.0, 9.7,
            8.8, 7.3, 4.7, 6.3, 7.6, 10.6, 13.5, 17.1, 21.4, 23.5, 33.0, 40.8, 49.4, 56.6, 61.0, 62.4, 63.8,
            65.3, 66.7, 64.9, 63.8, 62.8, 63.1, 63.2, 62.0, 61.0, 60.9, 61.2, 61.7, 63.8, 66.0, 68.2, 70.3,
            72.5, 75.0, 76.8, 79.0, 80.8, 82.2, 83.6, 84.7, 84.0, 83.3, 83.4, 82.6, 81.5, 81.7, 81.8, 79.7,
            77.9, 76.1, 74.6, 73.2, 71.8, 70.7, 70.3, 70.3, 70.0, 69.3, 70.7, 71.8, 72.6, 72.8, 73.6,
            74.3, 75.0, 76.1, 77.5, 78.6, 79.7, 79.8, 78.6, 77.9, 77.7, 77.5, 77.2, 76.4, 74.3, 72.5,
            70.3, 69.2, 68.5, 67.8, 67.8, 66.7, 65.6, 64.6, 64.2, 63.8, 64.9, 66.0, 67.1, 68.2, 69.2,
            70.3, 71.4, 73.2, 75.0, 76.8, 77.9, 79.3, 81.1, 83.3, 84.4, 85.4, 86.2, 87.6, 89.0, 90.5,
            91.2]

green_t = [0, 12, 13.5, 15, 20, 28, 30, 40, 60, 79.14, 90.0, 92.07, 94.1, 95.23, 95.66, 96.1, 96.67, 97.53, 98.54,
           98.97, 99.4, 99.83, 100.4, 100.98, 101.55, 102.13, 102.56, 102.99, 103.56, 103.99, 104.43, 104.86, 105.29,
           106.0, 106.44, 107.01, 107.59, 108.02, 108.45, 109.03, 109.6, 110.03, 110.6, 111.04, 111.55, 112.04,
           112.47, 113.05, 113.48, 113.91, 114.34, 114.77, 115.2, 115.63, 116.01, 116.5, 117.07, 117.65, 118.22,
           118.65, 119.08, 119.51, 119.8]
green_v = [0.3, 0.3, 0.5, 0.4, 0.5, 0.3, 0.4, 0.3, 0.3, 0.4, 0.4, 0.5, 0.6, 0.8, 1.2, 1.9, 2.3, 2.4, 2.4,
           1.6, 1.9, 1.7, 2.1, 2.8, 3.4, 3.7, 3.8, 4.5, 4.6, 5.0, 6.0, 6.3, 7.0,
           8.3, 9.9, 10.6, 10.9, 12.7, 15.4, 15.8, 14.5, 14.2, 13.8, 11.7, 8.9, 8.8,
           9.5, 9.5, 10.9, 11.4, 12.2, 13.0, 13.1, 12.9, 14.0, 11.7, 11.6, 10.8, 10.4,
           10.2, 9.3, 9.8, 10.4]

cms_t = [0, 120]
cms_code = [0, 0]

box1_lines = ["Light Blue = CMS message code:",
              "  0 = blank, 20 = Advise 45 MPH, 40 = Advise 30 MPH",
              "Green = Visibility BCMS (extinction coef)",
              "Violet = Visibility ACMS (extinction coef)"]
box2_lines = ["ACMS/BCMS % difference:",
              "   Black = Mean Speed",
              "   Orange = Norm PCS"]


def hms(m, pos):
    m = int(round(m))
    return "%d:%02d:00" % (m // 60, m % 60)


fig = plt.figure(figsize=(15.13, 7.96), dpi=100)
ax = fig.add_axes([42 / 1513, 1 - 759 / 796, 1392 / 1513, 741 / 796])
ax.set_facecolor('#C0C0C0')

# % difference series on the main axes (right-hand scale)
ax.plot(black_line_t, black_line_v, color='black', lw=1.5, zorder=3)
ax.plot(black_dot_t, black_dot_v, ls='none', marker='o', ms=3.8, mfc='none', mec='black', mew=1.1, zorder=4)
ax.plot(orange_line_t, orange_line_v, color='#FF9900', lw=1.6, zorder=5)
ax.plot(orange_dot_t, orange_dot_v, ls='none', marker='o', ms=3.6, mfc='#FF9900', mec='#FF9900', zorder=6)
ax.plot(orange_dot_t, orange_dot_v, ls='none', marker='o', ms=0.9, mfc='#8B3000', mec='#8B3000', zorder=7)

ax.set_xlim(0, 120)
ax.set_ylim(-100, 100)
ax.set_yticks(range(-100, 101, 25))
ax.yaxis.set_major_formatter(FuncFormatter(lambda v, p: "%.2f%%" % v))
ax.xaxis.set_major_locator(MultipleLocator(15))
ax.xaxis.set_minor_locator(MultipleLocator(5))
ax.xaxis.set_major_formatter(FuncFormatter(hms))
ax.grid(True, which='major', color='black', lw=0.9)
ax.set_axisbelow(True)

# visibility and message code on the left-hand scale
axl = ax.twinx()
axl.plot(cms_t, cms_code, color='#3366FF', lw=3, zorder=2, clip_on=False)
axl.plot(green_t, green_v, color='#339966', lw=1.6, zorder=3)
axl.plot(violet_t, violet_v, color='#800080', lw=1.6, zorder=4)
axl.set_ylim(0, 160)
axl.set_yticks(range(0, 161, 20))
axl.yaxis.tick_left()
axl.yaxis.set_label_position('left')
ax.yaxis.tick_right()
ax.yaxis.set_label_position('right')

ax.tick_params(axis='x', which='major', direction='inout', length=7, labelsize=10.5, pad=10)
ax.tick_params(axis='x', which='minor', direction='in', length=3)
ax.tick_params(axis='y', direction='out', length=5, labelsize=10.5, pad=3)
axl.tick_params(axis='y', direction='out', length=5, labelsize=10.5, pad=3)

for a in (ax, axl):
    for s in a.spines.values():
        s.set_color('#404040')
        s.set_linewidth(0.9)

# annotation boxes
axl.add_patch(Rectangle((20 / 1392, 578 / 741), 441 / 1392, 141 / 741, transform=axl.transAxes,
                        facecolor='white', edgecolor='none', zorder=8))
axl.add_patch(Rectangle((735 / 1392, 578 / 741), 251 / 1392, 111 / 741, transform=axl.transAxes,
                        facecolor='white', edgecolor='none', zorder=8))
for i, txt in enumerate(box1_lines):
    axl.text(24 / 1392, (759 - 54 - 28 * i) / 741, txt, transform=axl.transAxes, fontsize=12.5,
             va='center', ha='left', zorder=9)
for i, txt in enumerate(box2_lines):
    axl.text(739 / 1392, (759 - 87 - 28 * i) / 741, txt, transform=axl.transAxes, fontsize=12.5,
             va='center', ha='left', zorder=9)

fig.savefig('out.png', dpi=100)
